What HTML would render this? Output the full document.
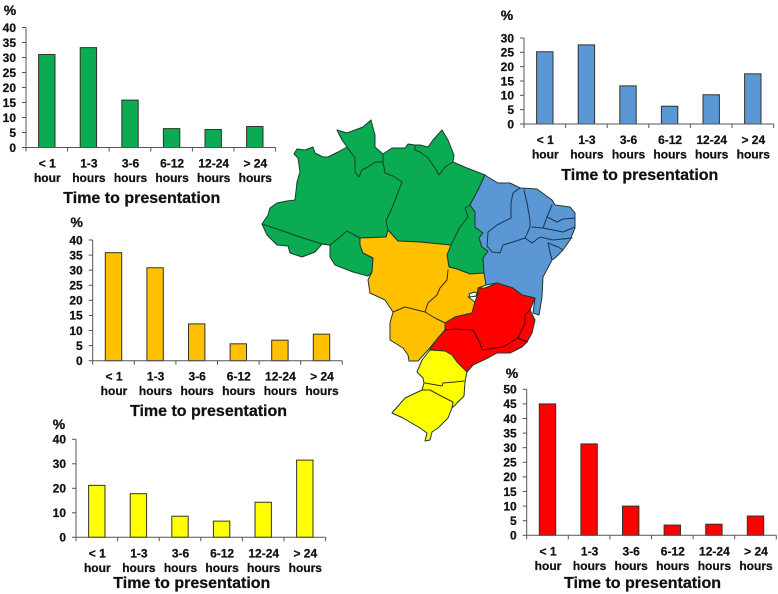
<!DOCTYPE html>
<html>
<head>
<meta charset="utf-8">
<title>Time to presentation by region of Brazil</title>
<style>
html,body{margin:0;padding:0;background:#fff;}
body{width:778px;height:594px;overflow:hidden;}
svg{display:block;filter:blur(0.35px);}
text{font-family:"Liberation Sans",sans-serif;font-weight:bold;fill:#111;stroke:#111;stroke-width:0.25;}
.reg{stroke:#1d3a2a;stroke-width:1;stroke-linejoin:round;}
.bdr{fill:none;stroke-width:1;stroke-linejoin:round;stroke-linecap:round;}
</style>
</head>
<body>
<svg id="figure" width="778" height="594" viewBox="0 0 778 594" xmlns="http://www.w3.org/2000/svg">
  <g id="map">
    <polygon class="reg" fill="#0aab52" points="262,224 268,215 270,208 277,203 287,201 295,200 297,182 300,172 298,158 294,154 297,149 305,150 313,147 315,153 323,157 328,157 338,152 347,147 342,140 337,130 347,133 363,127 371,120 373,128 375,135 375,147 383,154 392,148 405,148 408,144 415,145 420,145 428,147 433,140 442,130 448,140 454,155 453,162 467,168 485,175 478,190 470,205 475,212 475,227 483,233 479,238 482,247 488,251 483,258 484,273 470,274 457,269 449,267 447,255 451,245 420,242 398,241 388,230 386,237 360,238 360,245 363,253 373,258 372,272 368,276 353,272 335,265 330,257 330,245 322,244 315,252 302,257 290,253 288,246 277,245 267,235"/>
    <polygon class="reg" fill="#5b97d5" points="485,175 488,177 498,183 510,183 520,188 537,189 552,200 555,205 570,207 575,213 575,228 570,240 563,250 555,258 552,260 543,277 542,297 539,315 533,313 535,298 522,295 513,288 497,283 486,285 483,273 484,273 483,258 488,251 482,247 479,238 483,233 475,227 475,212 470,205 478,190"/>
    <polygon class="reg" fill="#ffc000" points="388,230 398,241 420,242 451,245 447,255 449,267 457,269 470,274 484,273 486,285 478,288 477,296 468,297 475,302 472,313 455,317 445,323 445,330 438,338 429,349 418,361 409,361 408,355 403,348 390,340 390,323 393,312 385,300 370,293 368,280 372,272 373,258 363,253 360,245 360,238 386,237"/>
    <polygon class="reg" fill="#ffffff" points="469,294 474,292 477,293 476,296 470,297"/>
    <polygon class="reg" fill="#ff0000" points="478,288 485,288 497,283 513,288 522,295 535,298 530,310 535,320 532,333 527,342 522,347 510,353 497,353 488,358 473,365 467,372 457,362 452,355 430,349 438,338 445,330 445,323 455,317 472,313 475,302 478,293"/>
    <polygon class="reg" fill="#ffff00" points="430,350 445,351 452,355 457,362 467,372 465,382 464,396 452,408 448,418 438,428 432,432 430,440 425,441 427,433 420,428 403,418 392,413 405,398 422,390 424,383 423,378 417,372 422,360"/>
    <g>
      <polyline class="bdr" stroke="#14402a" points="262,224 280,230 300,237 322,244 330,245 340,237 347,231 360,238"/>
      <polyline class="bdr" stroke="#14402a" points="347,147 355,158 355,172 359,177 362,170 368,167 375,162 383,162 383,154"/>
      <polyline class="bdr" stroke="#14402a" points="383,162 385,173 393,176 402,182 397,195 392,208 386,221 388,230"/>
      <polyline class="bdr" stroke="#14402a" points="415,150 420,152 428,158 435,168 439,175 445,167 453,162"/>
      <polyline class="bdr" stroke="#14402a" points="415,145 415,150"/>
      <polyline class="bdr" stroke="#14402a" points="451,245 460,227 468,217 465,208 470,205"/>
      <polyline class="bdr" stroke="#1c3350" points="520,188 513,193 511,203 511,218 497,225 488,232 487,247"/>
      <polyline class="bdr" stroke="#1c3350" points="524,190 527,203 530,220 530,227 525,238 513,242 503,245 500,253 492,252 488,247"/>
      <polyline class="bdr" stroke="#1c3350" points="552,205 547,217 543,228 532,227"/>
      <polyline class="bdr" stroke="#1c3350" points="547,217 557,222 563,219 575,218"/>
      <polyline class="bdr" stroke="#1c3350" points="543,228 553,230 563,232 575,227"/>
      <polyline class="bdr" stroke="#1c3350" points="525,238 532,243 540,237 553,240 572,238"/>
      <polyline class="bdr" stroke="#1c3350" points="548,243 558,247 563,250"/>
      <polyline class="bdr" stroke="#1c3350" points="548,243 550,252 552,260"/>
      <polyline class="bdr" stroke="#3b2c00" points="448,270 447,280 440,288 437,295 428,303 425,312 405,307 393,312"/>
      <polyline class="bdr" stroke="#3b2c00" points="425,312 435,318 445,323"/>
      <polyline class="bdr" stroke="#400000" points="445,330 455,329 473,330 480,343 482,350 495,348 503,347 518,338 527,342"/>
      <polyline class="bdr" stroke="#400000" points="518,338 525,323 525,315 530,310"/>
      <polyline class="bdr" stroke="#333300" points="425,383 442,386 443,383 455,382 464,381"/>
      <polyline class="bdr" stroke="#333300" points="422,390 430,390 443,397 453,402 452,408"/>
    </g>
  </g>
  <g id="charts"></g>
</svg>
<script>
const categoryTop = ["< 1", "1-3", "3-6", "6-12", "12-24", "> 24"];
const categoryBottom = ["hour", "hours", "hours", "hours", "hours", "hours"];

const northValues = [31, 33.3, 15.8, 6.3, 6, 7];
const northTicks = [0, 5, 10, 15, 20, 25, 30, 35, 40];

const northeastValues = [25.2, 27.6, 13.3, 6.2, 10.2, 17.5];
const northeastTicks = [0, 5, 10, 15, 20, 25, 30];

const centerWestValues = [35.8, 30.8, 12.2, 5.6, 6.8, 8.8];
const centerWestTicks = [0, 5, 10, 15, 20, 25, 30, 35, 40];

const southValues = [21.2, 17.8, 8.6, 6.6, 14.3, 31.5];
const southTicks = [0, 10, 20, 30, 40];

const southeastValues = [45, 31.3, 10, 3.5, 3.8, 6.6];
const southeastTicks = [0, 5, 10, 15, 20, 25, 30, 35, 40, 45, 50];

const SVGNS = "http://www.w3.org/2000/svg";
const root = document.getElementById("charts");

function make(parent, tag, attrs, content) {
  const el = document.createElementNS(SVGNS, tag);
  for (const k in attrs) el.setAttribute(k, attrs[k]);
  if (content !== undefined) el.textContent = content;
  parent.appendChild(el);
  return el;
}

function drawChart(cfg) {
  const g = make(root, "g", {});
  
  

  const maxVal = cfg.ticks[cfg.ticks.length - 1];
  const yOf = function (v) { return cfg.base - (v / maxVal) * (cfg.base - cfg.top); };
  const step = 41.6;
  const xOf = function (i) { return cfg.axis + step * i; };
  const right = xOf(cfg.values.length);

  cfg.values.forEach(function (v, i) {
    const bar = make(g, "rect", {
      x: xOf(i) + step / 2 - 8.2,
      y: yOf(v),
      width: 16.4,
      height: cfg.base - yOf(v),
      fill: cfg.fill,
      stroke: "#33332a",
      "stroke-width": 1
    });
    
    
  });

  const yAxis = make(g, "line", { x1: cfg.axis, y1: cfg.top, x2: cfg.axis, y2: cfg.base, stroke: "#555", "stroke-width": 1 });
  
  

  const xAxis = make(g, "line", { x1: cfg.axis, y1: cfg.base, x2: right, y2: cfg.base, stroke: "#555", "stroke-width": 1 });
  
  

  cfg.ticks.forEach(function (t) {
    const tick = make(g, "line", { x1: cfg.axis - 4, y1: yOf(t), x2: cfg.axis, y2: yOf(t), stroke: "#555", "stroke-width": 1 });
    
    
    const label = make(g, "text", { x: cfg.axis - 10, y: yOf(t) + 4.3, "text-anchor": "end", "font-size": 12 }, String(t));
    
    
  });

  for (let i = 0; i <= cfg.values.length; i++) {
    const tick = make(g, "line", { x1: xOf(i), y1: cfg.base, x2: xOf(i), y2: cfg.base + 4, stroke: "#555", "stroke-width": 1 });
    
    
  }

  categoryTop.forEach(function (c, i) {
    const cx = xOf(i) + step / 2 + 0.5;
    const top = make(g, "text", { x: cx, y: cfg.base + 20, "text-anchor": "middle", "font-size": 12 }, c);
    
    
    const bottom = make(g, "text", { x: cx, y: cfg.base + 34.5, "text-anchor": "middle", "font-size": 12 }, categoryBottom[i]);
    
    
  });

  const title = make(g, "text", { x: (cfg.axis + right) / 2 - 9, y: cfg.titleY, "text-anchor": "middle", "font-size": 16 }, "Time to presentation");
  
  

  const unit = make(g, "text", { x: cfg.unitX, y: cfg.unitY, "text-anchor": "middle", "font-size": 14 }, "%");
  
  
}

drawChart({ name: "north", values: northValues, ticks: northTicks, fill: "#0aab52", axis: 26, top: 27.5, base: 147.5, titleY: 203, unitX: 10, unitY: 15 });
drawChart({ name: "northeast", values: northeastValues, ticks: northeastTicks, fill: "#5b97d5", axis: 524, top: 38, base: 124, titleY: 180, unitX: 507, unitY: 20 });
drawChart({ name: "center-west", values: centerWestValues, ticks: centerWestTicks, fill: "#ffc000", axis: 92.7, top: 240, base: 360.7, titleY: 416, unitX: 76.7, unitY: 227 });
drawChart({ name: "south", values: southValues, ticks: southTicks, fill: "#ffff00", axis: 76, top: 439.3, base: 537.3, titleY: 588, unitX: 59, unitY: 429 });
drawChart({ name: "southeast", values: southeastValues, ticks: southeastTicks, fill: "#ff0000", axis: 526.7, top: 389.3, base: 535.3, titleY: 588, unitX: 512, unitY: 378 });
</script>
</body>
</html>
